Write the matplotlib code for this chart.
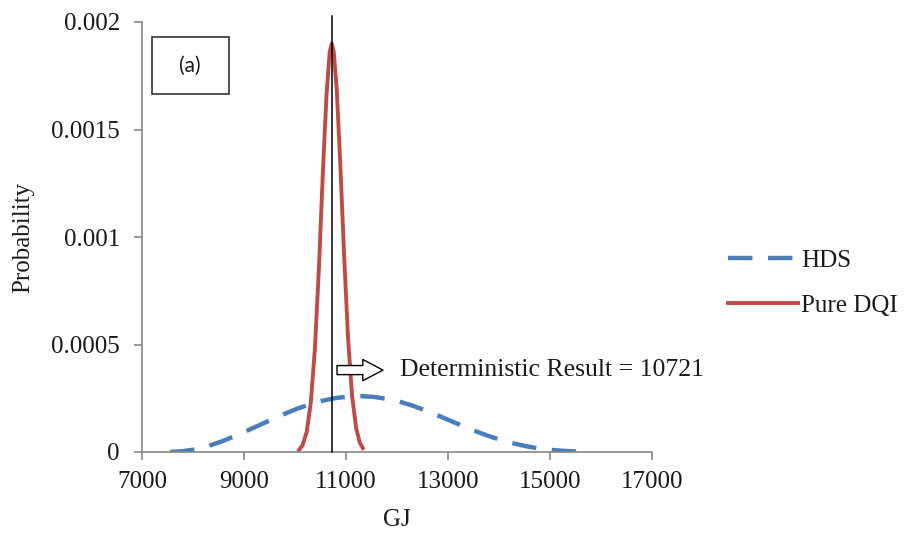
#!/usr/bin/env python3


# +
# import(s)
# -
import matplotlib
matplotlib.use('Agg')
import matplotlib.pyplot as plt
from matplotlib.patches import Rectangle


# +
# data
# -
HDS_X = [7550, 7800, 8050, 8300, 8550, 8800, 9050, 9300, 9550, 9800, 10050, 10300, 10550, 10800,
         11050, 11300, 11550, 11800, 12050, 12300, 12550, 12800, 13050, 13300, 13550, 13800,
         14050, 14300, 14550, 14800, 15050, 15300, 15550, 15800]
HDS_Y = [0.0, 0.000004, 0.000012, 0.000028, 0.000048, 0.000072, 0.000098, 0.000125, 0.000152,
         0.000178, 0.000202, 0.000222, 0.000239, 0.000251, 0.000258, 0.00026, 0.000256, 0.000247,
         0.000234, 0.000216, 0.000194, 0.00017, 0.000145, 0.00012, 0.000096, 0.000074, 0.000055,
         0.000039, 0.000026, 0.000016, 0.000009, 0.000005, 0.000002, 0.0]

DQI_X = [10080, 10150, 10230, 10310, 10390, 10470, 10550, 10620, 10680, 10721, 10760, 10820,
         10890, 10960, 11040, 11120, 11200, 11270, 11330]
DQI_Y = [0.00001, 0.000032, 0.000094, 0.00023, 0.00048, 0.00086, 0.00132, 0.00167, 0.00186,
         0.0019, 0.00186, 0.00168, 0.00133, 0.00093, 0.00053, 0.00026, 0.00011, 0.000044, 0.000018]

DET_RESULT = 10721
DET_LINE_Y = [0.0, 0.00203]
ARROW_X = [10824, 11725]
ARROW_Y = 0.000381
TEXT_X = 12059

X_TICKS = [7000, 9000, 11000, 13000, 15000, 17000]
Y_TICKS = [0, 0.0005, 0.001, 0.0015, 0.002]
Y_LABELS = ['0', '0.0005', '0.001', '0.0015', '0.002']

SERIF = 'Liberation Serif'
GRAY = '#868686'
TXT = '#1a1a1a'

# +
# figure
# -
fig = plt.figure(figsize=(9.12, 5.36), dpi=100)
ax = fig.add_axes([142 / 912, 84 / 536, 510 / 912, 430 / 536])

ax.plot(HDS_X, HDS_Y, color='#4A7EBB', lw=3.2, dashes=(5.5, 3.5), label='HDS',
        solid_capstyle='butt', dash_capstyle='butt')
ax.plot(DQI_X, DQI_Y, color='#BE4B48', lw=2.8, label='Pure DQI')
ax.plot([DET_RESULT, DET_RESULT], DET_LINE_Y, color='black', lw=1.1, clip_on=False, zorder=5)

# block arrow + text
ax.annotate('', xy=(ARROW_X[1], ARROW_Y), xytext=(ARROW_X[0], ARROW_Y),
            arrowprops=dict(arrowstyle='simple,head_length=1.0,head_width=1.05,tail_width=0.45',
                            mutation_scale=14.5, fc='white', ec='black', lw=1.0,
                            shrinkA=0, shrinkB=0), zorder=6)
ax.text(TEXT_X, ARROW_Y, 'Deterministic Result = 10721', fontsize=18.5, family=SERIF,
        color=TXT, va='center', ha='left')

# (a) box
ax.add_patch(Rectangle((0.0196, 0.833), 0.151, 0.132, transform=ax.transAxes,
                       fill=False, ec='#333333', lw=1.2, clip_on=False))
ax.text(0.094, 0.899, '(a)', transform=ax.transAxes, fontsize=15, family='Lato',
        color=TXT, ha='center', va='center')

# axes styling
ax.set_xlim(7000, 17000)
ax.set_ylim(0, 0.002)
ax.set_xticks(X_TICKS)
ax.set_xticklabels([str(v) for v in X_TICKS])
ax.set_yticks(Y_TICKS)
ax.set_yticklabels(Y_LABELS)
for _s in ['top', 'right']:
    ax.spines[_s].set_visible(False)
for _s in ['left', 'bottom']:
    ax.spines[_s].set_color(GRAY)
    ax.spines[_s].set_linewidth(1.2)
ax.tick_params(axis='both', colors=GRAY, labelcolor=TXT, labelsize=18, length=6, width=1.2)
ax.tick_params(axis='y', pad=10)
ax.tick_params(axis='x', pad=8)
for _l in ax.get_xticklabels() + ax.get_yticklabels():
    _l.set_family(SERIF)

ax.set_xlabel('GJ', fontsize=18, family=SERIF, color=TXT)
ax.xaxis.set_label_coords(0.5, -0.133)
ax.set_ylabel('Probability', fontsize=18, family=SERIF, color=TXT)
ax.yaxis.set_label_coords(-0.212, 0.5)

_leg = fig.legend(loc='center left', bbox_to_anchor=(0.785, 0.472), frameon=False,
                  handlelength=2.8, handletextpad=0.1, labelspacing=0.9, borderpad=0,
                  prop={'family': SERIF, 'size': 18})
for _t in _leg.get_texts():
    _t.set_color(TXT)

fig.savefig('out.png', dpi=100)
